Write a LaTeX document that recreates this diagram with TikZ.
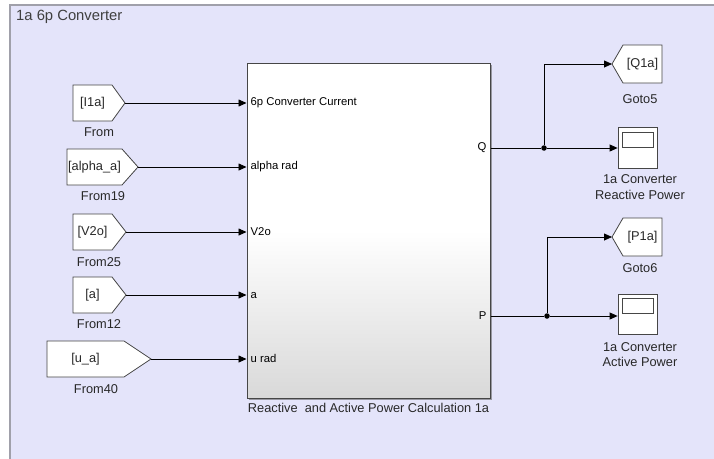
\documentclass[tikz,border=0pt]{standalone}
\usepackage{fontspec}
\setmainfont{Liberation Sans}
\usetikzlibrary{arrows.meta,shadows,calc}
\definecolor{bgfill}{RGB}{228,228,250}
\definecolor{bgline}{RGB}{160,160,170}
\definecolor{blkline}{RGB}{70,70,70}
\definecolor{txt}{RGB}{40,40,40}
\tikzset{
  blk/.style={draw=blkline, fill=white, line width=0.8pt},
  conn/.style={draw=black, line width=0.8pt, -{Triangle[length=8pt,width=7pt]}},
  plain/.style={draw=black, line width=0.8pt},
  lbl/.style={font=\fontsize{12.8}{15.5}\selectfont, text=txt, inner sep=0pt},
  portlbl/.style={font=\fontsize{11.3}{13}\selectfont, text=black, inner sep=0pt},
  junc/.style={circle, fill=black, inner sep=0pt, minimum size=5.5pt},
  mainblk/.style={draw=blkline, line width=1pt, top color=white, bottom color=black!15, middle color=white,
    drop shadow={shadow xshift=1.5pt, shadow yshift=-1.5pt, opacity=0.6, fill=black!60}}
}
% name, x1, xs, xt, yc, h, text
\newcommand\fromblock[7]{%
  \draw[blk] (#2,#5-#6) -- (#3,#5-#6) -- (#4,#5) -- (#3,#5+#6) -- (#2,#5+#6) -- cycle;
  \node[lbl] (#1) at ({(#2+#3)/2},#5) {#7};
  \coordinate (#1t) at (#4,#5);
}
% name, xt(tip), xs, x2, yc, h, text
\newcommand\gotoblock[7]{%
  \draw[blk] (#4,#5-#6) -- (#3,#5-#6) -- (#2,#5) -- (#3,#5+#6) -- (#4,#5+#6) -- cycle;
  \node[lbl] (#1) at ({(#3+#4)/2},#5) {#7};
  \coordinate (#1t) at (#2,#5);
}
\begin{document}
\begin{tikzpicture}[x=1pt,y=-1pt]
\useasboundingbox (0,0) rectangle (714,458);
\fill[bgfill] (10,5) rectangle (716,460);
\draw[bgline, line width=1.5pt] (10,460) -- (10,5) -- (716,5);
\node[lbl, anchor=west, font=\fontsize{14.8}{17}\selectfont, text=black!75] (title) at (16,17) {1a 6p Converter};

% main block
\node[mainblk, minimum width=243pt, minimum height=335pt, inner sep=0pt] (calc) at (368.5,230.5) {};
\node[lbl, anchor=north] (calclbl) at (calc.south) [yshift=-5pt] {Reactive\ \ and Active Power Calculation 1a};

% port labels
\foreach \n/\y/\t in {pa/103/6p Converter Current, pb/167/alpha rad, pc/232/V2o, pd/296/a, pe/358/u rad}{
  \node[portlbl, anchor=west] (\n) at ($(calc.west |- 0,\y)+(4,0)$) {\t};
}
\node[portlbl, anchor=east] (pq) at ($(calc.east |- 0,148)+(-4,0)$) {Q};
\node[portlbl, anchor=east] (pp) at ($(calc.east |- 0,316)+(-4,0)$) {P};

% from blocks
\fromblock{f1}{73}{112}{125}{103}{18}{[I1a]}
\node[lbl] (f1l) at (99,132) {From};
\fromblock{f2}{67}{122}{138}{167}{18}{[alpha\_a]}
\node[lbl] (f2l) at (103,196) {From19};
\fromblock{f3}{73}{112}{126}{232}{18}{[V2o]}
\node[lbl] (f3l) at (99,262) {From25};
\fromblock{f4}{73}{112}{126}{295}{18}{[a]}
\node[lbl] (f4l) at (99,324) {From12};
\fromblock{f5}{47}{124}{151}{359}{18}{[u\_a]}
\node[lbl] (f5l) at (96,389) {From40};

\draw[conn] (f1t) -- (calc.west |- f1t);
\draw[conn] (f2t) -- (calc.west |- f2t);
\draw[conn] (f3t) -- (calc.west |- f3t);
\draw[conn] (f4t) -- (calc.west |- f4t);
\draw[conn] (f5t) -- (calc.west |- f5t);

% goto blocks
\gotoblock{g1}{612}{623}{662}{64}{19}{[Q1a]}
\node[lbl] (g1l) at (640,99) {Goto5};
\gotoblock{g2}{612}{623}{662}{237}{19}{[P1a]}
\node[lbl] (g2l) at (640,268) {Goto6};

% scopes
\node[blk, minimum width=39pt, minimum height=41pt, inner sep=0pt, drop shadow={shadow xshift=1pt, shadow yshift=-1pt, opacity=0.4}] (s1) at (637.5,147.5) {};
\draw[blkline, line width=0.8pt] ($(s1.north west)+(5,6)$) rectangle ($(s1.north east)+(-4,21)$);
\node[lbl, align=center] (s1l) at (640,187) {1a Converter\\Reactive Power};
\node[blk, minimum width=39pt, minimum height=40pt, inner sep=0pt, drop shadow={shadow xshift=1pt, shadow yshift=-1pt, opacity=0.4}] (s2) at (637.5,314) {};
\draw[blkline, line width=0.8pt] ($(s2.north west)+(5,5)$) rectangle ($(s2.north east)+(-4,20)$);
\node[lbl, align=center] (s2l) at (640,354.5) {1a Converter\\Active Power};

% output connectors
\node[junc] (j1) at (544,148) {};
\node[junc] (j2) at (547,316) {};
\draw[plain] (calc.east |- j1) -- (j1);
\draw[conn] (j1) -- (s1.west |- j1);
\draw[conn] (j1) |- (g1t);
\draw[plain] (calc.east |- j2) -- (j2);
\draw[conn] (j2) -- (s2.west |- j2);
\draw[conn] (j2) |- (g2t);
\end{tikzpicture}
\end{document}
